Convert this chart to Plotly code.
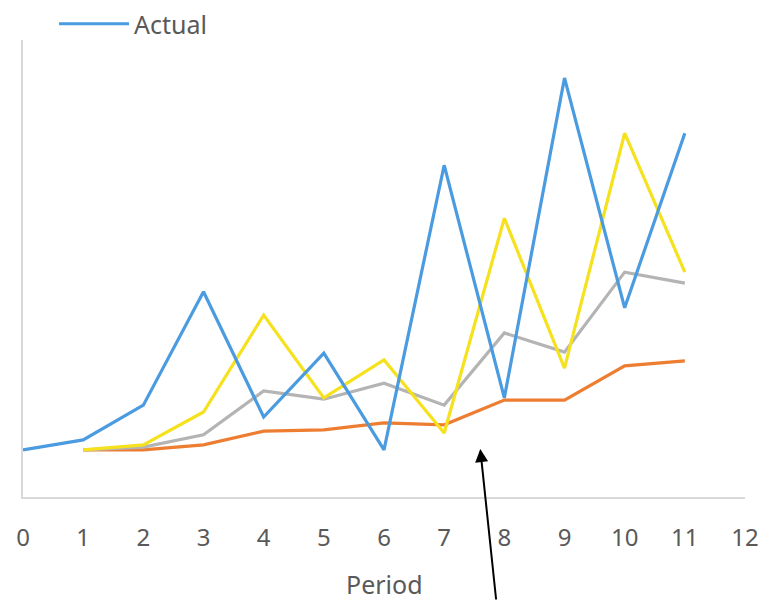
import plotly.graph_objects as go

# Demand per period and three exponentially smoothed forecasts
period_actual = [0, 1, 2, 3, 4, 5, 6, 7, 8, 9, 10, 11]
actual = [10.3, 12.5, 20.1, 44.9, 17.5, 31.5, 10.3, 72.6, 21.7, 91.7, 41.4, 79.6]

period_fc = [1, 2, 3, 4, 5, 6, 7, 8, 9, 10, 11]
forecast_high = [10.3, 11.4, 18.6, 39.8, 21.7, 30.0, 14.0, 61.0, 28.2, 79.6, 49.2]
forecast_mid = [10.3, 10.9, 13.6, 23.2, 21.4, 24.9, 20.1, 35.9, 31.7, 49.2, 46.8]
forecast_low = [10.3, 10.3, 11.4, 14.4, 14.7, 16.2, 15.8, 21.2, 21.2, 28.7, 29.8]

x_ticks = list(range(0, 13))

FONT = "Noto Sans"
TEXT = "#595959"

fig = go.Figure()
fig.add_trace(go.Scatter(x=period_fc, y=forecast_low, mode="lines", showlegend=False,
                         line=dict(color="#ED7D31", width=3.2)))
fig.add_trace(go.Scatter(x=period_fc, y=forecast_mid, mode="lines", showlegend=False,
                         line=dict(color="#B4B4B4", width=3.2)))
fig.add_trace(go.Scatter(x=period_fc, y=forecast_high, mode="lines", showlegend=False,
                         line=dict(color="#F5E11E", width=3.2)))
fig.add_trace(go.Scatter(x=period_actual, y=actual, mode="lines", name="Actual",
                         line=dict(color="#4A9BE0", width=3.2)))

# arrow pointing at the period-7/8 region
fig.add_annotation(x=7.6, y=10.5, xref="x", yref="y", ax=16, ay=152,
                   showarrow=True, arrowhead=2, arrowsize=1.3, arrowwidth=2,
                   arrowcolor="black", text="")

# x-axis title
fig.add_annotation(x=0.501, y=-0.191, xref="paper", yref="paper",
                   xanchor="center", yanchor="middle", showarrow=False,
                   borderpad=0, text="Period", font=dict(size=25, color=TEXT))

fig.update_layout(
    width=763, height=601,
    margin=dict(l=23, r=18, t=40, b=104, autoexpand=False),
    paper_bgcolor="white", plot_bgcolor="white",
    font=dict(family=FONT, color=TEXT, size=24),
    showlegend=True,
    legend=dict(x=0.043, y=1.035, xanchor="left", yanchor="middle",
                orientation="h", itemwidth=70, font=dict(size=25, color=TEXT),
                bgcolor="rgba(0,0,0,0)", tracegroupgap=0),
    xaxis=dict(range=[0, 12], tickvals=x_ticks, ticktext=[str(t) for t in x_ticks],
               showgrid=False, zeroline=False, showline=True, linecolor="#D9D9D9",
               linewidth=2, ticks="", ticklabelstandoff=18),
    yaxis=dict(range=[0, 100], showgrid=False, zeroline=False, showline=True,
               linecolor="#D9D9D9", linewidth=2, showticklabels=False, ticks=""),
)

fig.write_html("out.html")
